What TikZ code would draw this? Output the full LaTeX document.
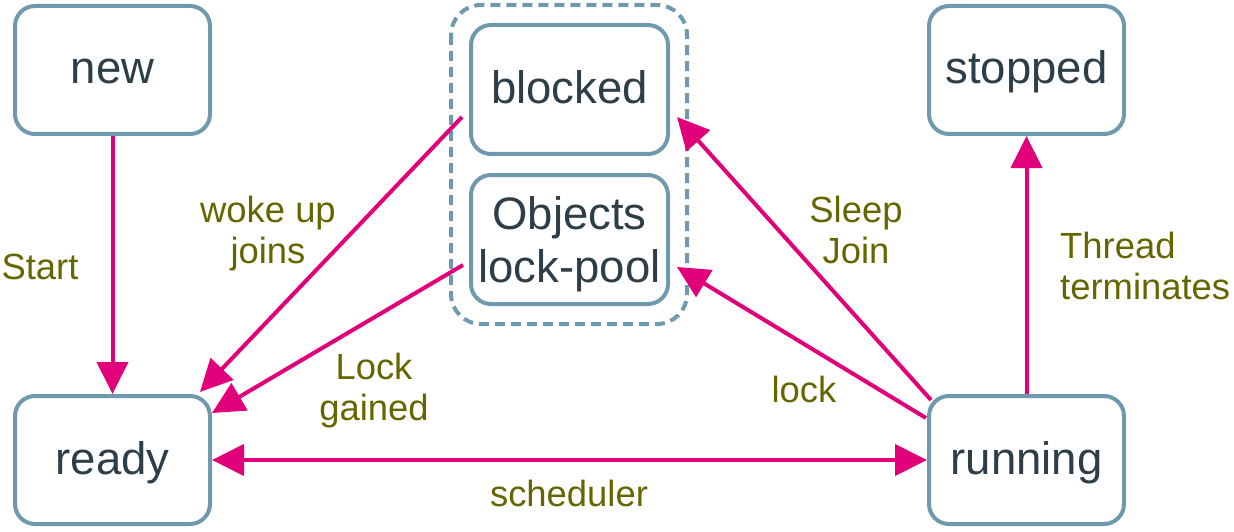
\documentclass[tikz,border=0pt]{standalone}
\usepackage{fontspec}
\setmainfont{Liberation Sans}
\usetikzlibrary{arrows.meta,calc}
\definecolor{boxc}{HTML}{6F9AAE}
\definecolor{txtc}{HTML}{2E3E48}
\definecolor{arrc}{HTML}{E2007A}
\definecolor{lblc}{HTML}{666600}
\tikzset{
  state/.style={draw=boxc, line width=4pt, rounded corners=20pt, fill=white,
    minimum width=195pt, minimum height=128pt, inner sep=0pt, text=txtc,
    align=center, font=\fontsize{45.5}{53}\selectfont},
  oneline/.style={text height=34pt, text depth=6pt},
  conn/.style={draw=arrc, line width=4pt, -{Triangle[length=32pt,width=31pt]}},
  biconn/.style={draw=arrc, line width=4pt, {Triangle[length=32pt,width=31pt]}-{Triangle[length=32pt,width=31pt]}},
  lbl/.style={text=lblc, inner sep=0pt, align=center, font=\fontsize{36.4}{41}\selectfont},
  grp/.style={draw=boxc, line width=4pt, dash pattern=on 10pt off 6pt, rounded corners=30pt}
}
\begin{document}
\begin{tikzpicture}[x=1pt,y=-1pt]
\useasboundingbox (0,0) rectangle (1234,532);
\draw[grp] (451,5) rectangle (687,324);
\node[state, oneline] (new) at (112.5,70) {new};
\node[state, oneline] (stopped) at (1026.5,70) {stopped};
\node[state, oneline] (ready) at (112.5,460) {ready};
\node[state, oneline] (running) at (1026.5,460) {running};
\node[state, oneline, minimum width=197pt, minimum height=129pt] (blocked) at (569.5,89.5) {blocked};
\node[state, text depth=0pt, minimum width=197pt, minimum height=129pt] (objects) at (569.5,239.5) {Objects\\lock-pool};

\draw[conn] (new) -- (ready);
\draw[conn] (running) -- (stopped);
\draw[biconn] (ready) -- (running);
\draw[conn] ($(blocked.west)+(-7,27.5)$) -- ($(ready.north east)+(-12,-2)$);
\draw[conn] ($(objects.west)+(-6,25.5)$) -- ($(ready.north east)+(0,19)$);
\draw[conn] ($(running.north west)+(4,6)$) -- ($(blocked.east)+(7,27.5)$);
\draw[conn] ($(running.north west)+(-1,24)$) -- ($(objects.east)+(7,27.5)$);

\node[lbl] (lstart) at (40,267) {Start};
\node[lbl] (lwoke) at (268,234) {woke up\\joins};
\node[lbl] (llock) at (374,391) {Lock\\gained};
\node[lbl] (lsleep) at (856,230) {Sleep\\Join};
\node[lbl] (llk) at (804,389) {lock};
\node[lbl, align=left, anchor=west] (lthread) at (1060,266) {Thread\\terminates};
\node[lbl] (lsched) at (569,493) {scheduler};
\end{tikzpicture}
\end{document}
